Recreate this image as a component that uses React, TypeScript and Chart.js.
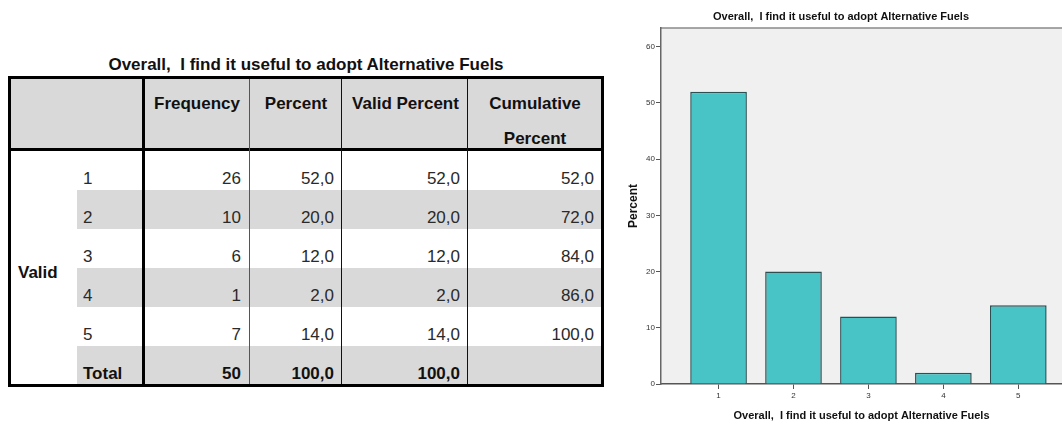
import React, { useEffect, useRef } from "react";
import { Chart, registerables } from "chart.js";

Chart.register(...registerables);

// ---------- data ----------
const tableTitle = "Overall,  I find it useful to adopt Alternative Fuels";
const groupLabel = "Valid";
const columnHeaders = ["Frequency", "Percent", "Valid Percent", "Cumulative\nPercent"];
const rowLabels = ["1", "2", "3", "4", "5", "Total"];
const frequency = ["26", "10", "6", "1", "7", "50"];
const percent = ["52,0", "20,0", "12,0", "2,0", "14,0", "100,0"];
const validPercent = ["52,0", "20,0", "12,0", "2,0", "14,0", "100,0"];
const cumulativePercent = ["52,0", "72,0", "84,0", "86,0", "100,0", ""];

const chartTitle = "Overall,  I find it useful to adopt Alternative Fuels";
const xAxisTitle = "Overall,  I find it useful to adopt Alternative Fuels";
const yAxisTitle = "Percent";
const categories = ["1", "2", "3", "4", "5"];
const percentValues = [52, 20, 12, 2, 14];
const yTicks = [0, 10, 20, 30, 40, 50, 60];

// ---------- styling ----------
const NARROW = "'Liberation Sans Narrow', 'Arial Narrow', 'Liberation Sans', sans-serif";
const SANS = "'Liberation Sans', Arial, sans-serif";
const GRAY = "#d9d9d9";

const colEdges = [145, 249, 342, 468, 601];
const rowTop0 = 151;
const rowH = 39;

function abs(style: React.CSSProperties): React.CSSProperties {
  return { position: "absolute", boxSizing: "border-box", ...style };
}

function FrequencyTable() {
  const cols = [frequency, percent, validPercent, cumulativePercent];
  const items: React.ReactNode[] = [];
  items.push(<div key="hbg" style={abs({ left: 11, top: 79, width: 590, height: 69, background: GRAY })} />);
  rowLabels.forEach((_, i) => {
    if (i % 2 === 1) {
      items.push(
        <div key={"bg" + i} style={abs({ left: 77, top: rowTop0 + rowH * i, width: 524, height: rowH, background: GRAY })} />
      );
    }
  });
  items.push(<div key="hline" style={abs({ left: 11, top: 148, width: 590, height: 3, background: "#000" })} />);
  items.push(<div key="v0" style={abs({ left: 142, top: 79, width: 3, height: 305, background: "#000" })} />);
  items.push(<div key="v1" style={abs({ left: 249, top: 79, width: 1, height: 305, background: "#555" })} />);
  items.push(<div key="v2" style={abs({ left: 341, top: 79, width: 1, height: 305, background: "#111" })} />);
  items.push(<div key="v3" style={abs({ left: 467, top: 79, width: 1, height: 305, background: "#111" })} />);
  items.push(<div key="outer" style={abs({ left: 8, top: 76, width: 596, height: 311, border: "3px solid #000" })} />);
  columnHeaders.forEach((h, c) => {
    const left = c === 0 ? 145 : colEdges[c] + 1;
    const right = colEdges[c + 1];
    items.push(
      <div
        key={"h" + c}
        style={abs({
          left,
          top: 85.5,
          width: right - left,
          lineHeight: "35px",
          textAlign: "center",
          fontWeight: "bold",
          fontFamily: NARROW,
          fontSize: 17,
          color: "#111",
          whiteSpace: "pre-line",
        })}
      >
        {h}
      </div>
    );
  });
  items.push(
    <div
      key="group"
      style={abs({ left: 18, top: 263, lineHeight: "20px", fontWeight: "bold", fontFamily: NARROW, fontSize: 17, color: "#111" })}
    >
      {groupLabel}
    </div>
  );
  rowLabels.forEach((lab, i) => {
    const top = rowTop0 + rowH * i + 18;
    const bold = lab === "Total";
    const base: React.CSSProperties = {
      top,
      height: 20,
      lineHeight: "20px",
      fontFamily: NARROW,
      fontSize: 17,
      fontWeight: bold ? "bold" : "normal",
      color: bold ? "#111" : "#2a2a2a",
      whiteSpace: "nowrap",
    };
    items.push(
      <div key={"l" + i} style={abs({ ...base, left: 83 })}>
        {lab}
      </div>
    );
    cols.forEach((col, c) => {
      const right = colEdges[c + 1];
      items.push(
        <div key={"c" + i + "_" + c} style={abs({ ...base, left: right - 120, width: 120 - (c === 3 ? 7 : 8), textAlign: "right" })}>
          {col[i]}
        </div>
      );
    });
  });
  return (
    <div>
      <div
        style={abs({
          left: 8,
          width: 596,
          top: 55,
          lineHeight: "20px",
          textAlign: "center",
          fontWeight: "bold",
          fontFamily: NARROW,
          fontSize: 17,
          color: "#111",
          whiteSpace: "pre",
        })}
      >
        {tableTitle}
      </div>
      {items}
    </div>
  );
}

const plotFrame = {
  id: "plotFrame",
  beforeDraw(chart: any) {
    const { ctx, chartArea } = chart;
    ctx.save();
    ctx.fillStyle = "#f0f0f0";
    ctx.fillRect(chartArea.left, chartArea.top, chartArea.right - chartArea.left, chartArea.bottom - chartArea.top);
    ctx.strokeStyle = "#8a8a8a";
    ctx.lineWidth = 1.5;
    ctx.beginPath();
    ctx.moveTo(chartArea.left, chartArea.top);
    ctx.lineTo(chartArea.right, chartArea.top);
    ctx.stroke();
    ctx.restore();
  },
};

function BarChart() {
  const ref = useRef<HTMLCanvasElement | null>(null);
  useEffect(() => {
    if (!ref.current) return;
    const chart = new Chart(ref.current, {
      type: "bar",
      data: {
        datasets: [
          {
            label: yAxisTitle,
            data: categories.map((c, i) => ({ x: Number(c), y: percentValues[i] })),
            backgroundColor: "#48c3c6",
            borderColor: "#2c4f51",
            borderWidth: 1.5,
            categoryPercentage: 1,
            barPercentage: 0.756,
          },
        ],
      },
      options: {
        animation: false,
        responsive: false,
        layout: { padding: { left: 0, right: 0, top: 0, bottom: 0 } },
        plugins: {
          legend: { display: false },
          tooltip: { enabled: false },
          title: {
            display: true,
            text: chartTitle,
            color: "#111",
            font: { family: SANS, size: 11, weight: "bold", lineHeight: 1.2 },
            padding: { top: 10.4, bottom: 4.4 },
          },
        },
        scales: {
          x: {
            type: "linear",
            offset: false,
            min: 0.232,
            max: 5.583,
            afterBuildTicks: (scale: any) => {
              scale.ticks = categories.map((c) => ({ value: Number(c) }));
            },
            afterFit: (scale: any) => {
              scale.height = 40;
            },
            ticks: {
              autoSkip: false,
              maxRotation: 0,
              padding: 2,
              color: "#333",
              font: { family: SANS, size: 8 },
              callback: (v: any) => String(v),
            },
            grid: {
              display: true,
              offset: false,
              drawOnChartArea: false,
              drawTicks: true,
              tickLength: 5,
              color: "#555",
              lineWidth: 1,
            },
            border: { display: true, color: "#555", width: 1.5 },
            title: {
              display: true,
              text: xAxisTitle,
              color: "#111",
              font: { family: SANS, size: 11, weight: "bold", lineHeight: 1.2 },
              padding: { top: 0, bottom: 1 },
            },
          },
          y: {
            min: 0,
            max: 63.33,
            afterBuildTicks: (scale: any) => {
              scale.ticks = yTicks.map((v) => ({ value: v }));
            },
            afterFit: (scale: any) => {
              scale.width = 41;
            },
            ticks: {
              padding: 1,
              color: "#333",
              font: { family: SANS, size: 8 },
            },
            grid: {
              display: true,
              offset: false,
              drawOnChartArea: false,
              drawTicks: true,
              tickLength: 5,
              color: "#555",
              lineWidth: 1,
            },
            border: { display: true, color: "#666", width: 1.5 },
            title: {
              display: true,
              text: yAxisTitle,
              color: "#111",
              font: { family: SANS, size: 12, weight: "bold", lineHeight: 1.2 },
              padding: { top: 6, bottom: 0 },
            },
          },
        },
      },
      plugins: [plotFrame],
    });
    return () => chart.destroy();
  }, []);
  return (
    <div style={abs({ left: 620, top: 0, width: 442, height: 424 })}>
      <canvas ref={ref} width={442} height={424} style={{ display: "block", width: 442, height: 424 }} />
    </div>
  );
}

export default function App() {
  return (
    <div style={{ position: "absolute", left: 0, top: 0, width: 1062, height: 424, background: "#fff", overflow: "hidden" }}>
      <FrequencyTable />
      <BarChart />
    </div>
  );
}
